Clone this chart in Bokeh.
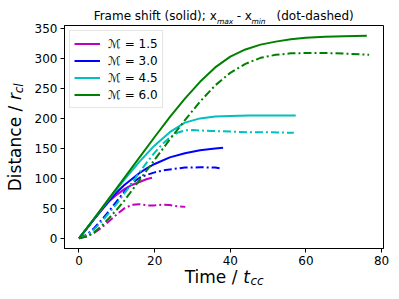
from bokeh.plotting import figure
from bokeh.models import FixedTicker, Range1d, LinearAxis
from bokeh.embed import file_html
from bokeh.resources import INLINE

# ---------------- data ----------------
mach_labels = ["ℳ = 1.5", "ℳ = 3.0", "ℳ = 4.5", "ℳ = 6.0"]

# M = 1.5
t_m15_shift = [0, 2, 4, 6, 8, 10, 12, 14, 16, 18, 19.3]
d_m15_shift = [0, 16, 32, 47, 62, 73, 82, 89, 94, 99, 101]
t_m15_ext = [0, 2, 4, 6, 8, 10, 12, 14, 16, 18, 20, 22, 24, 26, 28.1]
d_m15_ext = [0, 3, 9, 18, 29, 40, 50, 56, 57, 55, 55, 56, 55.5, 53.5, 52.5]

# M = 3.0
t_m30_shift = [0, 2, 4, 6, 8, 10, 12, 14, 16, 18, 20, 24, 28, 32, 36, 38.1]
d_m30_shift = [0, 16, 32, 48, 63, 77, 89, 99, 109, 117, 124, 135, 142, 147, 150, 151]
t_m30_ext = [0, 2, 4, 6, 8, 10, 12, 14, 16, 18, 20, 22, 24, 28, 32, 36, 37.9]
d_m30_ext = [0, 6, 17, 31, 46, 62, 78, 92, 101, 106, 110, 113, 115, 118, 118.5, 118, 116]

# M = 4.5
t_m45_shift = [0, 4, 8, 12, 16, 20, 24, 28, 32, 36, 40, 45, 50, 57.3]
d_m45_shift = [0, 33, 66, 98, 128, 155, 177, 193, 200, 203, 204, 205, 205, 205]
t_m45_ext = [0, 2, 4, 6, 8, 10, 12, 14, 16, 18, 20, 22, 24, 26, 28, 30, 35, 40, 45, 50, 56.8]
d_m45_ext = [0, 5, 15, 28, 43, 58, 75, 92, 110, 127, 143, 157, 168, 176, 180, 180.5, 179, 178, 177, 177, 176]

# M = 6.0
t_m60_shift = [0, 4, 8, 12, 16, 20, 24, 28, 32, 36, 40, 44, 48, 52, 56, 60, 65, 70, 76.1]
d_m60_shift = [0, 33, 67, 101, 135, 169, 202, 233, 261, 285, 303, 315, 323, 328, 332, 334.5, 336, 337, 338]
t_m60_ext = [0, 2, 4, 6, 8, 10, 12, 14, 16, 18, 20, 24, 28, 32, 36, 40, 44, 48, 52, 56, 60, 65, 70, 76.7]
d_m60_ext = [0, 3, 10, 21, 34, 48, 63, 80, 97, 114, 131, 165, 197, 228, 255, 276, 291, 301, 306, 308.5, 309, 309, 308, 306]

x_ticks = [0, 20, 40, 60, 80]
y_ticks = [0, 50, 100, 150, 200, 250, 300, 350]

title_main = ["Frame shift (solid); x", "- x", "(dot-dashed)"]
title_subs = ["max", "min"]
xlabel_main = "Time /"
xlabel_var = "t"
xlabel_sub = "cc"
ylabel_main = "Distance /"
ylabel_var = "r"
ylabel_sub = "cl"

# ---------------- styles / layout ----------------
colors = ["#bf00bf", "#0000ff", "#00bfbf", "#008000"]
FONT = "DejaVu Sans"
X0, X1 = -3.83, 80.5
Y0, Y1 = -16.9, 354.9
FL, FR, FT, FB = 64, 383, 25, 248      # frame edges in page pixels

series = [
    (t_m15_shift, d_m15_shift, t_m15_ext, d_m15_ext),
    (t_m30_shift, d_m30_shift, t_m30_ext, d_m30_ext),
    (t_m45_shift, d_m45_shift, t_m45_ext, d_m45_ext),
    (t_m60_shift, d_m60_shift, t_m60_ext, d_m60_ext),
]

p = figure(width=398, height=298, output_backend="svg", toolbar_location=None,
           x_range=Range1d(X0, X1), y_range=Range1d(Y0, Y1),
           min_border_left=FL, min_border_right=398 - FR, min_border_top=FT,
           min_border_bottom=298 - FB)
p.title.visible = False
p.background_fill_color = "white"
p.border_fill_color = "white"
p.outline_line_color = "black"
p.outline_line_width = 1
p.xgrid.visible = False
p.ygrid.visible = False

for ax, ticks in ((p.xaxis, x_ticks), (p.yaxis, y_ticks)):
    ax.ticker = FixedTicker(ticks=ticks)
    ax.minor_tick_line_color = None
    ax.major_tick_in = 0
    ax.major_tick_out = 4
    ax.major_tick_line_color = "black"
    ax.axis_line_color = "black"
    ax.major_label_text_font = FONT
    ax.major_label_text_font_size = "12px"
    ax.major_label_text_color = "black"
    ax.major_label_standoff = 3

for (ts, ds, te, de), col, lab in zip(series, colors, mach_labels):
    p.line(ts, ds, line_color=col, line_width=2, legend_label=lab)
    p.line(te, de, line_color=col, line_width=2, line_dash="8 3 2 3")

lg = p.legend[0]
lg.location = "top_left"
lg.margin = 5
lg.padding = 4
lg.spacing = 0
lg.glyph_height = 17
lg.label_height = 17
lg.glyph_width = 26
lg.label_standoff = 8
lg.label_text_font = FONT
lg.label_text_font_size = "12px"
lg.label_text_color = "black"
lg.border_line_color = "#cccccc"
lg.border_line_width = 1
lg.background_fill_alpha = 0.8


def px_to_x(px):
    return round(X0 + (px - FL) / (FR - FL) * (X1 - X0), 3)


def py_to_y(py):
    return round(Y0 + (FB - py) / (FB - FT) * (Y1 - Y0), 3)


def text_axis(side, centers_px, texts, size, italic, standoff):
    """An extra axis that only carries text pieces as tick labels (no line, no ticks)."""
    conv = px_to_x if side in ("above", "below") else py_to_y
    ticks = [conv(c) for c in centers_px]
    ax = LinearAxis(ticker=FixedTicker(ticks=ticks, minor_ticks=[]))
    ax.major_label_overrides = {t: s for t, s in zip(ticks, texts)}
    ax.axis_line_color = None
    ax.major_tick_line_color = None
    ax.minor_tick_line_color = None
    ax.major_tick_in = 0
    ax.major_tick_out = 0
    ax.minor_tick_in = 0
    ax.minor_tick_out = 0
    ax.major_label_standoff = standoff
    ax.major_label_text_font = FONT
    ax.major_label_text_font_size = f"{size}px"
    ax.major_label_text_font_style = "italic" if italic else "normal"
    ax.major_label_text_color = "black"
    if side in ("left", "right"):
        ax.major_label_orientation = "vertical"
    p.add_layout(ax, side)


# title (above the frame): subscripts first (nearest the frame), then main text
text_axis("above", [224.6, 258.0], title_subs, 7.5, True, 0)
text_axis("above", [154.7, 243.8, 314.6], title_main, 12, False, -9)

# x label (below the tick numbers)
text_axis("below", [210.5], [xlabel_main], 17, False, -1)
text_axis("below", [246.0], [xlabel_var], 17, True, -23)
text_axis("below", [256.5], [xlabel_sub], 12, True, -16)

# y label (left of the tick numbers, reading upwards)
text_axis("left", [87.8], [ylabel_sub], 12, True, 5)
text_axis("left", [148.0], [ylabel_main], 17, False, -16)
text_axis("left", [96.0], [ylabel_var], 17, True, -23)

open("out.html", "w").write(file_html(p, INLINE))
